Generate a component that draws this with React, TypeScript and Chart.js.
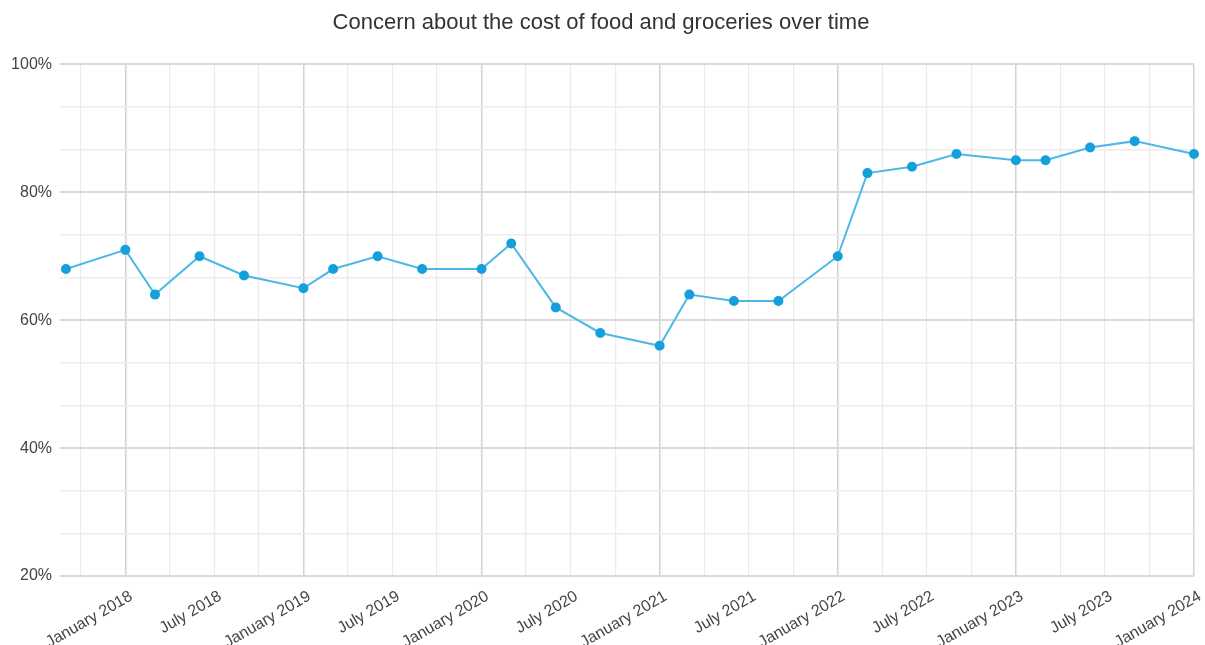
import React, { useEffect, useRef } from "react";
import { Chart, registerables } from "chart.js";

Chart.register(...registerables);

const surveyDates = [
  "2017-09", "2018-01", "2018-03", "2018-06", "2018-09",
  "2019-01", "2019-03", "2019-06", "2019-09",
  "2020-01", "2020-03", "2020-06", "2020-09",
  "2021-01", "2021-03", "2021-06", "2021-09",
  "2022-01", "2022-03", "2022-06", "2022-09",
  "2023-01", "2023-03", "2023-06", "2023-09",
  "2024-01",
];
const concernValues = [
  68, 71, 64, 70, 67,
  65, 68, 70, 68,
  68, 72, 62, 58,
  56, 64, 63, 63,
  70, 83, 84, 86,
  85, 85, 87, 88,
  86,
];
const xTickLabels = [
  "January 2018", "July 2018", "January 2019", "July 2019", "January 2020",
  "July 2020", "January 2021", "July 2021", "January 2022", "July 2022",
  "January 2023", "July 2023", "January 2024",
];
const yTickLabels = ["20%", "40%", "60%", "80%", "100%"];
const yValuesLabelled = [20, 40, 60, 80, 100];

const BASE_YEAR = 2018;
const monthIndex = (d: string) => {
  const [y, m] = d.split("-").map(Number);
  return (y - BASE_YEAR) * 12 + (m - 1);
};

export default function App() {
  const ref = useRef<HTMLCanvasElement | null>(null);
  useEffect(() => {
    document.body.style.margin = "0";
    const canvas = ref.current!;
    const font = "'Liberation Sans', Arial, sans-serif";
    const isLabelled = (n: number) => yValuesLabelled.some((x) => Math.abs(x - n) < 0.01);
    const chart = new Chart(canvas, {
      type: "line",
      data: {
        datasets: [
          {
            data: surveyDates.map((d, i) => ({ x: monthIndex(d), y: concernValues[i] })),
            borderColor: "#4db8e6",
            backgroundColor: "#159fdb",
            pointBackgroundColor: "#159fdb",
            pointBorderColor: "#159fdb",
            borderWidth: 2,
            pointRadius: 4,
            tension: 0,
            clip: false,
          },
        ],
      },
      options: {
        animation: false,
        responsive: true,
        maintainAspectRatio: false,
        layout: { padding: { left: 8, right: 11, top: 0, bottom: 0 } },
        plugins: {
          legend: { display: false },
          tooltip: { enabled: false },
          title: {
            display: true,
            text: "Concern about the cost of food and groceries over time",
            color: "#333",
            font: { family: font, size: 22, weight: "normal" },
            padding: { top: 10, bottom: 28 },
          },
        },
        scales: {
          x: {
            type: "linear",
            min: -4.4,
            max: 72,
            afterBuildTicks: (scale: any) => {
              const t = [];
              for (let v = -3; v <= 72; v += 3) t.push({ value: v });
              scale.ticks = t;
            },
            afterFit: (scale: any) => {
              scale.height = 69;
              scale.paddingRight = 0;
              scale.paddingLeft = 0;
            },
            ticks: {
              autoSkip: false,
              maxRotation: 30,
              minRotation: 30,
              padding: 11,
              labelOffset: 6,
              color: "#444",
              font: { family: font, size: 16 },
              callback: (v: any) => {
                const n = Number(v);
                if (n >= 0 && n % 6 === 0) return xTickLabels[n / 6] ?? "";
                return "";
              },
            },
            grid: {
              drawTicks: false,
              color: (ctx: any) => (ctx.tick && ctx.tick.value % 12 === 0 ? "#d2d2d2" : "#ebebeb"),
              lineWidth: (ctx: any) => (ctx.tick && ctx.tick.value % 12 === 0 ? 1.5 : 1.2),
            },
            border: { display: false },
          },
          y: {
            min: 20,
            max: 100,
            afterBuildTicks: (scale: any) => {
              const t = [];
              for (let k = 0; k <= 12; k++) t.push({ value: 20 + (k * 20) / 3 });
              scale.ticks = t;
            },
            afterFit: (scale: any) => {
              scale.width = 52;
            },
            ticks: {
              autoSkip: false,
              padding: 8,
              color: "#444",
              font: { family: font, size: 16 },
              callback: (v: any) => {
                const n = Number(v);
                const idx = yValuesLabelled.findIndex((x) => Math.abs(x - n) < 0.01);
                return idx >= 0 ? yTickLabels[idx] : "";
              },
            },
            grid: {
              drawTicks: false,
              color: (ctx: any) => (isLabelled(ctx.tick ? ctx.tick.value : 0) ? "#d9d9d9" : "#ececec"),
              lineWidth: (ctx: any) => (isLabelled(ctx.tick ? ctx.tick.value : 0) ? 2 : 1.5),
            },
            border: { display: false },
          },
        },
      },
    } as any);
    return () => chart.destroy();
  }, []);
  return (
    <div style={{ width: 1205, height: 645, position: "relative" }}>
      <canvas ref={ref} />
    </div>
  );
}
